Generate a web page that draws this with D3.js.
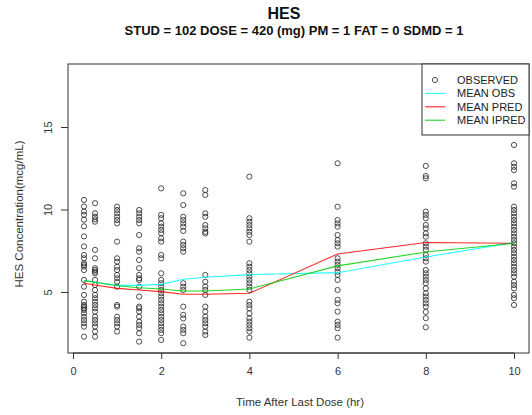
<!DOCTYPE html>
<html>
<head>
<meta charset="utf-8">
<script src="https://cdn.jsdelivr.net/npm/d3@7"></script>
<style>
  html, body { margin: 0; padding: 0; background: #fff; }
  svg { display: block; font-family: "Liberation Sans", Arial, sans-serif; }
</style>
</head>
<body>
<svg id="chart" width="532" height="415"></svg>
<script>
// Sampling times (hr)
const times = [0.25, 0.5, 1, 1.5, 2, 2.5, 3, 4, 6, 8, 10];

// Observed concentrations (mcg/mL) at each sampling time
const observed = [
  [10.58, 10.18, 9.88, 9.68, 9.38, 8.98, 8.37, 7.76, 7.24, 7.04, 6.74, 6.64, 6.54, 6.33, 5.73, 5.32, 4.82, 4.41, 4.21, 4.11, 4.01, 3.91, 3.71, 3.5, 3.3, 3.1, 2.9, 2.29],
  [10.38, 9.77, 9.56, 9.4, 9.26, 7.55, 7.04, 6.44, 6.33, 6.23, 6.13, 5.73, 5.42, 5.12, 4.82, 4.62, 4.41, 4.21, 4.01, 3.81, 3.5, 3.3, 3.1, 2.9, 2.6, 2.29],
  [10.17, 9.97, 9.77, 9.56, 9.36, 9.16, 8.05, 7.04, 6.84, 6.53, 6.33, 6.03, 5.83, 5.62, 5.32, 4.21, 4.11, 3.5, 3.3, 3.1, 2.9, 2.6],
  [9.97, 9.77, 9.56, 9.36, 9.16, 8.45, 7.65, 7.44, 6.94, 6.44, 6.03, 5.83, 5.73, 5.32, 4.72, 4.11, 4.01, 3.81, 3.5, 3.2, 3.0, 2.8, 2.5, 1.99],
  [11.28, 9.67, 9.47, 9.16, 8.96, 8.76, 8.56, 8.25, 8.05, 7.24, 7.04, 6.13, 5.73, 5.53, 5.32, 5.12, 4.92, 4.72, 4.52, 4.31, 4.11, 3.91, 3.71, 3.5, 3.3, 3.1, 2.9, 2.7, 2.5, 2.09],
  [10.98, 10.27, 9.56, 9.36, 9.16, 8.96, 8.7, 8.05, 7.85, 7.65, 7.44, 5.53, 5.32, 5.12, 4.11, 3.61, 3.4, 2.9, 2.7, 2.5, 1.89],
  [11.18, 10.88, 9.77, 9.56, 9.06, 8.86, 8.65, 8.55, 6.03, 5.62, 5.32, 5.12, 4.82, 4.11, 3.81, 3.5, 3.3, 3.1, 2.9, 2.6, 2.39],
  [11.99, 9.47, 9.26, 9.06, 8.86, 8.65, 8.45, 8.05, 6.74, 6.53, 6.33, 6.13, 5.93, 5.73, 5.53, 5.32, 5.12, 4.41, 4.21, 4.01, 3.71, 3.4, 3.2, 3.0, 2.8, 2.6, 2.23],
  [12.8, 10.17, 9.36, 9.16, 8.96, 8.45, 8.15, 7.95, 7.75, 7.04, 6.84, 6.64, 6.44, 6.23, 6.03, 5.73, 5.12, 4.52, 4.31, 3.81, 3.2, 3.0, 2.8, 2.23],
  [12.64, 12.03, 11.89, 9.87, 9.67, 9.47, 9.06, 8.86, 8.55, 8.35, 7.95, 7.75, 7.55, 7.24, 7.04, 6.84, 6.33, 6.13, 5.93, 5.73, 5.53, 5.22, 4.92, 4.72, 4.52, 4.31, 4.11, 3.79, 3.41, 2.86],
  [13.91, 12.8, 12.59, 12.39, 11.59, 11.38, 10.17, 9.97, 9.77, 9.56, 9.36, 9.16, 8.96, 8.76, 8.55, 8.35, 8.15, 7.95, 7.75, 7.55, 7.35, 7.14, 6.94, 6.74, 6.53, 6.33, 6.13, 5.93, 5.62, 5.42, 5.22, 4.82, 4.62, 4.21]
];

// Mean profiles at each sampling time
const meanObs   = [5.69, 5.59, 5.40, 5.40, 5.46, 5.77, 5.89, 6.05, 6.17, 7.12, 8.00];
const meanPred  = [5.53, 5.42, 5.22, 5.12, 5.02, 4.86, 4.86, 4.92, 7.30, 8.00, 7.95];
const meanIpred = [5.69, 5.59, 5.38, 5.26, 5.18, 5.06, 5.06, 5.18, 6.58, 7.42, 7.95];

const xTicks = [0, 2, 4, 6, 8, 10];
const yTicks = [5, 10, 15];

const legendLabels = ["OBSERVED", "MEAN OBS", "MEAN PRED", "MEAN IPRED"];
const lineColors = ["#00ffff", "#ff0000", "#00cc00"];

const svg = d3.select("#chart");
const plot = { left: 68, right: 529, top: 64, bottom: 353 };

const x = d3.scaleLinear().domain([-0.113, 10.34]).range([plot.left, plot.right]);
const y = d3.scaleLinear().domain([1.30, 18.82]).range([plot.bottom, plot.top]);

// Titles
svg.append("text").attr("x", 284).attr("y", 19).attr("text-anchor", "middle")
  .attr("font-size", 16).attr("font-weight", "bold").attr("fill", "#111").text("HES");
svg.append("text").attr("x", 294).attr("y", 35).attr("text-anchor", "middle")
  .attr("font-size", 13).attr("font-weight", "bold").attr("fill", "#111")
  .text("STUD = 102 DOSE = 420 (mg) PM = 1 FAT = 0 SDMD = 1");

// Axes
const xAxis = svg.append("g").attr("transform", `translate(0,${plot.bottom})`)
  .call(d3.axisBottom(x).tickValues(xTicks).tickSize(6).tickPadding(8).tickFormat(d3.format("d")));
const yAxis = svg.append("g").attr("transform", `translate(${plot.left},0)`)
  .call(d3.axisLeft(y).tickValues(yTicks).tickSize(7).tickFormat(d3.format("d")));
[xAxis, yAxis].forEach(g => {
  g.select(".domain").remove();
  g.selectAll("line").attr("stroke", "#333");
  g.selectAll("text").attr("font-size", 11).attr("fill", "#333")
    .attr("font-family", "'Liberation Sans', Arial, sans-serif");
});
// x axis line spans the tick range
svg.append("line").attr("x1", x(0)).attr("x2", x(10))
  .attr("y1", plot.bottom).attr("y2", plot.bottom).attr("stroke", "#333");
// y tick labels are written vertically
yAxis.selectAll(".tick text")
  .attr("text-anchor", "middle").attr("dy", null).attr("x", null)
  .attr("transform", "translate(-16,0) rotate(-90)");

// Plot frame
svg.append("rect").attr("x", plot.left).attr("y", plot.top)
  .attr("width", plot.right - plot.left).attr("height", plot.bottom - plot.top)
  .attr("fill", "none").attr("stroke", "#333").attr("stroke-width", 1);

// Axis titles
svg.append("text").attr("x", 300).attr("y", 406).attr("text-anchor", "middle")
  .attr("font-size", 11.5).attr("fill", "#333").text("Time After Last Dose (hr)");
svg.append("text").attr("transform", "translate(23,214) rotate(-90)")
  .attr("text-anchor", "middle").attr("font-size", 11.5).attr("fill", "#333")
  .text("HES Concentration(mcg/mL)");

// Observed points
const pts = [];
times.forEach((t, i) => observed[i].forEach(v => pts.push([t, v])));
svg.append("g").selectAll("circle").data(pts).join("circle")
  .attr("cx", d => x(d[0])).attr("cy", d => y(d[1])).attr("r", 2.6)
  .attr("fill", "none").attr("stroke", "#222").attr("stroke-width", 0.8);

// Mean lines
const line = d3.line().x((d, i) => x(times[i])).y(d => y(d));
[meanObs, meanPred, meanIpred].forEach((s, k) => {
  svg.append("path").datum(s).attr("d", line).attr("fill", "none")
    .attr("stroke", lineColors[k]).attr("stroke-width", 1.1).attr("stroke-opacity", 0.85);
});

// Legend
const lg = svg.append("g");
lg.append("rect").attr("x", 422).attr("y", plot.top).attr("width", plot.right - 422)
  .attr("height", 135 - plot.top).attr("fill", "#fff").attr("stroke", "#333");
legendLabels.forEach((lab, i) => {
  const yy = 80 + i * 13.4;
  if (i === 0) {
    lg.append("circle").attr("cx", 435).attr("cy", yy).attr("r", 2.6)
      .attr("fill", "none").attr("stroke", "#222").attr("stroke-width", 0.8);
  } else {
    lg.append("line").attr("x1", 425).attr("x2", 445).attr("y1", yy).attr("y2", yy)
      .attr("stroke", lineColors[i - 1]).attr("stroke-width", 1.1).attr("stroke-opacity", 0.85);
  }
  lg.append("text").attr("x", 457).attr("y", yy + 4).attr("font-size", 11)
    .attr("fill", "#222").text(lab);
});
</script>
</body>
</html>
